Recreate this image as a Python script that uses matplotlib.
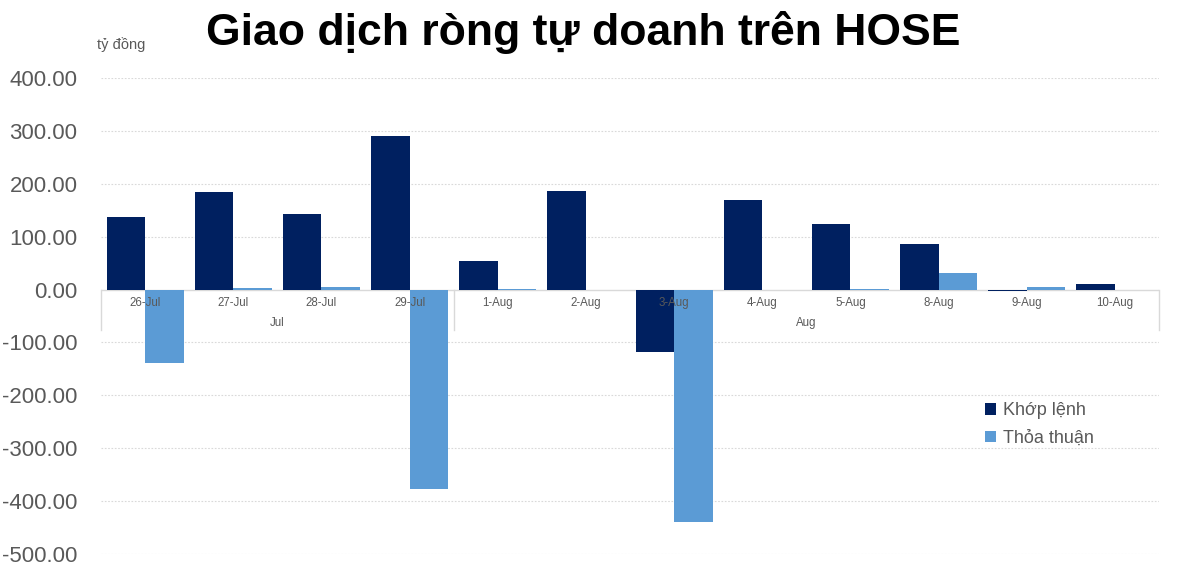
import numpy as np
import matplotlib.pyplot as plt

plt.rcParams["font.family"] = ["Liberation Sans", "DejaVu Sans"]

dates = ["26-Jul", "27-Jul", "28-Jul", "29-Jul", "1-Aug", "2-Aug",
         "3-Aug", "4-Aug", "5-Aug", "8-Aug", "9-Aug", "10-Aug"]
months = ["Jul", "Aug"]
month_sizes = [4, 8]
khop_lenh = [138, 184, 143, 291, 54, 187, -119, 169, 125, 87, -3, 11]
thoa_thuan = [-140, 2, 5, -377, 1.5, 0, -441, 0, 1.5, 31, 4, 0]
yticks = [400, 300, 200, 100, 0, -100, -200, -300, -400, -500]

DARK = "#002060"
LIGHT = "#5B9BD5"
GRID = "#d9d9d9"
TEXT = "#595959"

fig = plt.figure(figsize=(12, 5.75), dpi=100)
ax = fig.add_axes([101 / 1200, 1 - 553.5 / 575, 1058 / 1200, 475.2 / 575])

x = np.arange(len(dates))
w = 0.437
ax.bar(x - w, khop_lenh, width=w, align="edge", color=DARK, label="Khớp lệnh", zorder=2)
ax.bar(x, thoa_thuan, width=w, align="edge", color=LIGHT, label="Thỏa thuận", zorder=2)

ax.set_xlim(-0.5, len(dates) - 0.5)
ax.set_ylim(-500, 400)
ax.set_yticks(yticks)
ax.set_yticklabels([f"{v:.2f}" for v in yticks], fontsize=16, color=TEXT)
ax.tick_params(axis="y", length=0, pad=17)
ax.set_xticks([])
for s in ax.spines.values():
    s.set_visible(False)

for v in yticks:
    if v == 0:
        ax.axhline(0, color=GRID, lw=1, zorder=1)
    else:
        ax.axhline(v, color=GRID, lw=0.8, ls=(0, (1.5, 1.5)), zorder=0)

# category labels and month grouping box
for i, d in enumerate(dates):
    ax.text(i, -26, d, ha="center", va="center", fontsize=8.3, color=TEXT, zorder=3)

start = -0.5
ax.plot([start, start], [0, -77], color=GRID, lw=1, clip_on=False, zorder=1)
for m, n in zip(months, month_sizes):
    end = start + n
    ax.plot([end, end], [0, -77], color=GRID, lw=1, clip_on=False, zorder=1)
    ax.text((start + end) / 2, -64, m, ha="center", va="center", fontsize=8.3, color=TEXT, zorder=3)
    start = end

ax.legend(loc="upper left", bbox_to_anchor=(969 / 1200, 1 - 386 / 575),
          bbox_transform=fig.transFigure, frameon=False, fontsize=13,
          handlelength=0.6, handleheight=0.6, handletextpad=0.4,
          labelspacing=0.6, labelcolor=TEXT)

fig.text(0.486, 1 - 33 / 575, "Giao dịch ròng tự doanh trên HOSE",
         ha="center", va="center", fontsize=32, fontweight="bold", color="black")
fig.text(97 / 1200, 1 - 45 / 575, "tỷ đồng", ha="left", va="center",
         fontsize=10.5, color=TEXT)

fig.savefig("out.png", dpi=100, facecolor="white")
